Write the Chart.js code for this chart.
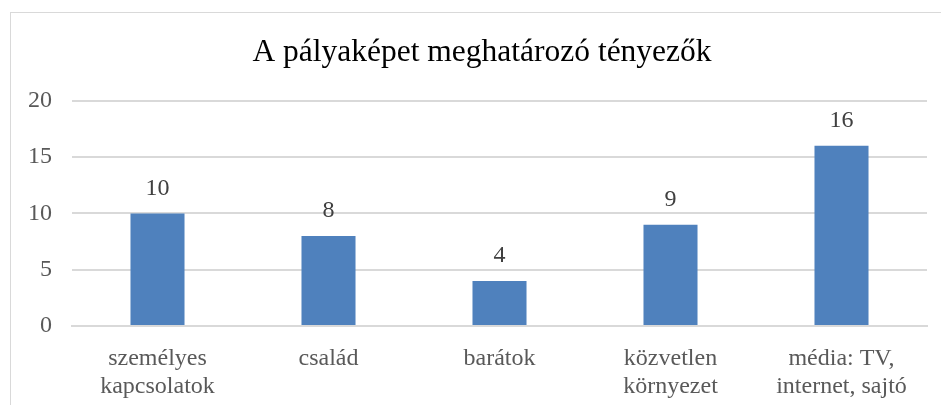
<!DOCTYPE html>
<html>
<head>
<meta charset="utf-8">
<script src="https://cdn.jsdelivr.net/npm/chart.js@4"></script>
<style>
	html, body { margin: 0; padding: 0; background: #fff; }
	#wrap { position: relative; width: 941px; height: 405px; overflow: hidden; }
	#frame { position: absolute; left: 10px; top: 12px; width: 1000px; height: 500px; border: 1px solid #d9d9d9; box-sizing: border-box; }
	canvas { position: absolute; left: 0; top: 0; }
</style>
</head>
<body>
<div id="wrap">
	<div id="frame"></div>
	<!-- canvas is a bit wider than the window so the title sits where the reference has it -->
	<canvas id="bar-chart" width="964" height="405"></canvas>
</div>
<script>
const categories = [
	["személyes", "kapcsolatok"],
	"család",
	"barátok",
	["közvetlen", "környezet"],
	["média: TV,", "internet, sajtó"]
];
const values = [10, 8, 4, 9, 16];
const yTicks = [0, 5, 10, 15, 20];
const chartTitle = 'A pályaképet meghatározó tényezők';

const serif = "'Liberation Serif', 'Times New Roman', serif";

// value labels above the bars
const valueLabels = {
	id: 'valueLabels',
	afterDatasetsDraw(chart) {
		const ctx = chart.ctx;
		const meta = chart.getDatasetMeta(0);
		ctx.save();
		ctx.font = '24px ' + serif;
		ctx.fillStyle = '#404040';
		ctx.textAlign = 'center';
		ctx.textBaseline = 'middle';
		meta.data.forEach((bar, i) => {
			ctx.fillText(values[i], bar.x, bar.y - 25);
		});
		ctx.restore();
	}
};

new Chart(document.getElementById('bar-chart'), {
	type: 'bar',
	data: {
		labels: categories,
		datasets: [{
			data: values,
			backgroundColor: '#4f81bd',
			barPercentage: 0.316,
			categoryPercentage: 1
		}]
	},
	options: {
		responsive: false,
		animation: false,
		layout: { padding: { top: 12, right: 0, left: 0, bottom: 0 } },
		plugins: {
			legend: { display: false },
			tooltip: { enabled: false },
			title: {
				display: true,
				text: chartTitle,
				color: '#000',
				font: { family: serif, size: 31.5, weight: 'normal' },
				padding: { top: 22, bottom: 29 }
			}
		},
		scales: {
			x: {
				grid: { display: false },
				border: { display: true, color: '#d9d9d9', width: 2 },
				ticks: {
					color: '#595959',
					font: { family: serif, size: 24, lineHeight: 1.2 },
					padding: 10,
					maxRotation: 0,
					autoSkip: false
				},
				afterFit(axis) { axis.height = 79; }
			},
			y: {
				min: 0,
				max: 20,
				afterBuildTicks(axis) { axis.ticks = yTicks.map(v => ({ value: v })); },
				grid: { color: '#d9d9d9', lineWidth: 2, drawTicks: false },
				border: { display: false },
				ticks: {
					color: '#595959',
					font: { family: serif, size: 24 },
					padding: 20
				},
				afterFit(axis) { axis.width = 72; }
			},
			// empty right axis, only keeps the plot's right edge at x = 927
			yRight: {
				position: 'right',
				min: 0,
				max: 20,
				grid: { display: false, drawTicks: false },
				border: { display: false },
				ticks: { display: false },
				afterFit(axis) { axis.width = 37; }
			}
		}
	},
	plugins: [valueLabels]
});
</script>
</body>
</html>
